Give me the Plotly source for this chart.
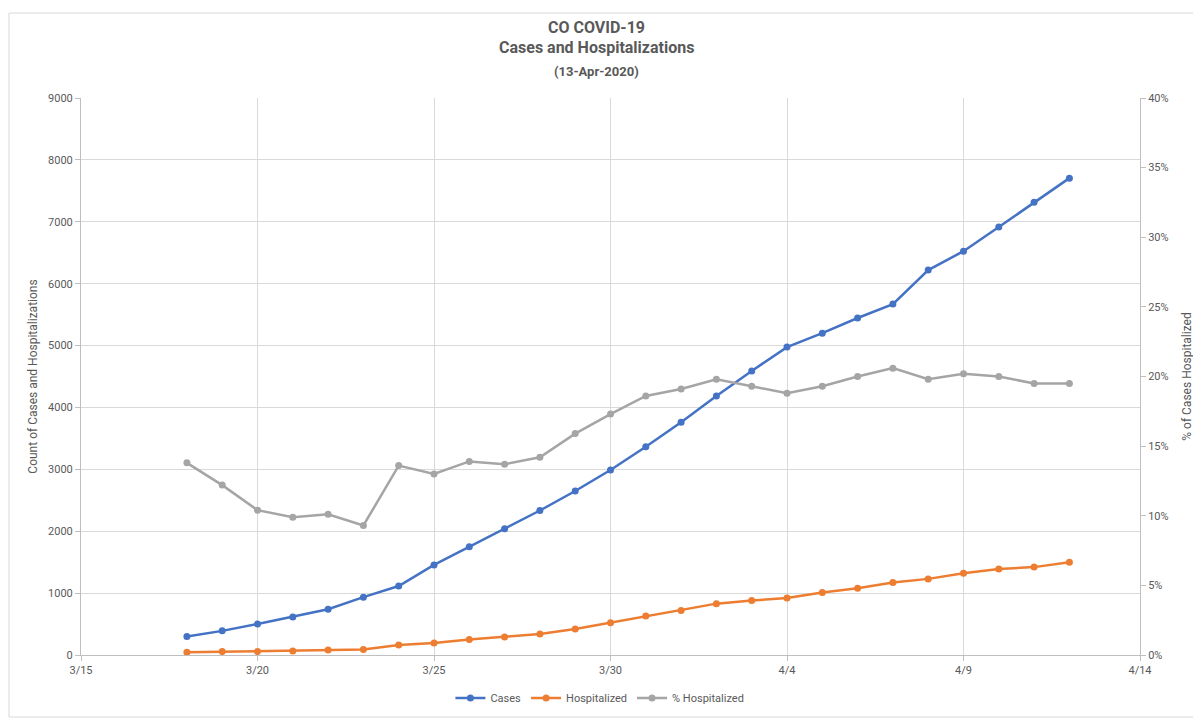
import pandas as pd
import plotly.graph_objects as go

# data
dates = pd.date_range("2020-03-18", "2020-04-12", freq="D")
cases = [300, 390, 500, 615, 740, 935, 1115, 1455, 1750, 2040, 2335, 2650, 2990,
         3365, 3760, 4185, 4590, 4975, 5200, 5445, 5670, 6220, 6525, 6915, 7315, 7705]
hospitalized = [45, 55, 55, 65, 80, 90, 160, 195, 250, 290, 340, 420, 520,
                630, 720, 830, 880, 920, 1010, 1080, 1170, 1230, 1320, 1390, 1420, 1500]
pct_hospitalized = [13.8, 12.2, 10.4, 9.9, 10.1, 9.3, 13.6, 13.0, 13.9, 13.7, 14.2, 15.9, 17.3,
                    18.6, 19.1, 19.8, 19.3, 18.8, 19.3, 20.0, 20.6, 19.8, 20.2, 20.0, 19.5, 19.5]

BLUE = '#4472C4'
ORANGE = '#ED7D31'
GRAY = '#A5A5A5'
TXT = '#595959'
FONT = 'Roboto, sans-serif'

fig = go.Figure()
fig.add_trace(go.Scatter(x=dates, y=cases, name='Cases', mode='lines+markers',
                         line=dict(color=BLUE, width=2.5), marker=dict(size=7, color=BLUE)))
fig.add_trace(go.Scatter(x=dates, y=hospitalized, name='Hospitalized', mode='lines+markers',
                         line=dict(color=ORANGE, width=2.5), marker=dict(size=7, color=ORANGE)))
fig.add_trace(go.Scatter(x=dates, y=[p / 100 for p in pct_hospitalized], name='% Hospitalized',
                         mode='lines+markers', yaxis='y2',
                         line=dict(color=GRAY, width=2.5), marker=dict(size=7, color=GRAY)))

# page body has an 8px margin, so the figure is made a bit smaller than the window
fig.update_layout(
    width=1193, height=711,
    paper_bgcolor='white', plot_bgcolor='white',
    margin=dict(l=73, r=61, t=90, b=64, autoexpand=False),
    font=dict(family=FONT, size=11, color=TXT),
    showlegend=True,
    legend=dict(orientation='h', x=0.49, xanchor='center', y=-0.077, yanchor='middle',
                font=dict(size=11, color=TXT), traceorder='normal'),
    xaxis=dict(type='date', range=['2020-03-15', '2020-04-14'],
               tickvals=pd.date_range("2020-03-15", "2020-04-14", freq="5D"),
               tickformat='%-m/%-d', showgrid=True, gridcolor='#D9D9D9', gridwidth=1,
               showline=True, linecolor='#BFBFBF', linewidth=1, ticks='outside',
               ticklen=5, tickcolor='#BFBFBF', zeroline=False, automargin=False,
               tickfont=dict(size=11, color=TXT)),
    yaxis=dict(range=[0, 9000], dtick=1000, showgrid=True, gridcolor='#D9D9D9',
               showline=True, linecolor='#BFBFBF', ticks='outside', ticklen=5,
               tickcolor='#BFBFBF', zeroline=False, automargin=False,
               tickfont=dict(size=11, color=TXT),
               title=dict(text='Count of Cases and Hospitalizations',
                          font=dict(size=12, color=TXT), standoff=7)),
    yaxis2=dict(range=[0, 0.4], dtick=0.05, tickformat='.0%', overlaying='y', side='right',
                showgrid=False, showline=True, linecolor='#BFBFBF', ticks='outside',
                ticklen=5, tickcolor='#BFBFBF', zeroline=False, automargin=False,
                tickfont=dict(size=11, color=TXT),
                title=dict(text='% of Cases Hospitalized', font=dict(size=12, color=TXT),
                           standoff=14)),
)

# three-line chart title
fig.add_annotation(text='<b>CO COVID-19</b>', xref='paper', yref='paper', x=0.487, y=1.0 + 71 / 557,
                   showarrow=False, font=dict(size=16, color=TXT), yanchor='middle')
fig.add_annotation(text='<b>Cases and Hospitalizations</b>', xref='paper', yref='paper', x=0.487,
                   y=1.0 + 50 / 557, showarrow=False, font=dict(size=16, color=TXT), yanchor='middle')
fig.add_annotation(text='<b>(13-Apr-2020)</b>', xref='paper', yref='paper', x=0.487,
                   y=1.0 + 26 / 557, showarrow=False, font=dict(size=13, color=TXT), yanchor='middle')

# chart area border
fig.add_shape(type='rect', xref='paper', yref='paper',
              x0=-72 / 1059, x1=1 + 59 / 1059, y0=-62 / 557, y1=1 + 85 / 557,
              line=dict(color='#D9D9D9', width=1))

fig.write_html("out.html")
